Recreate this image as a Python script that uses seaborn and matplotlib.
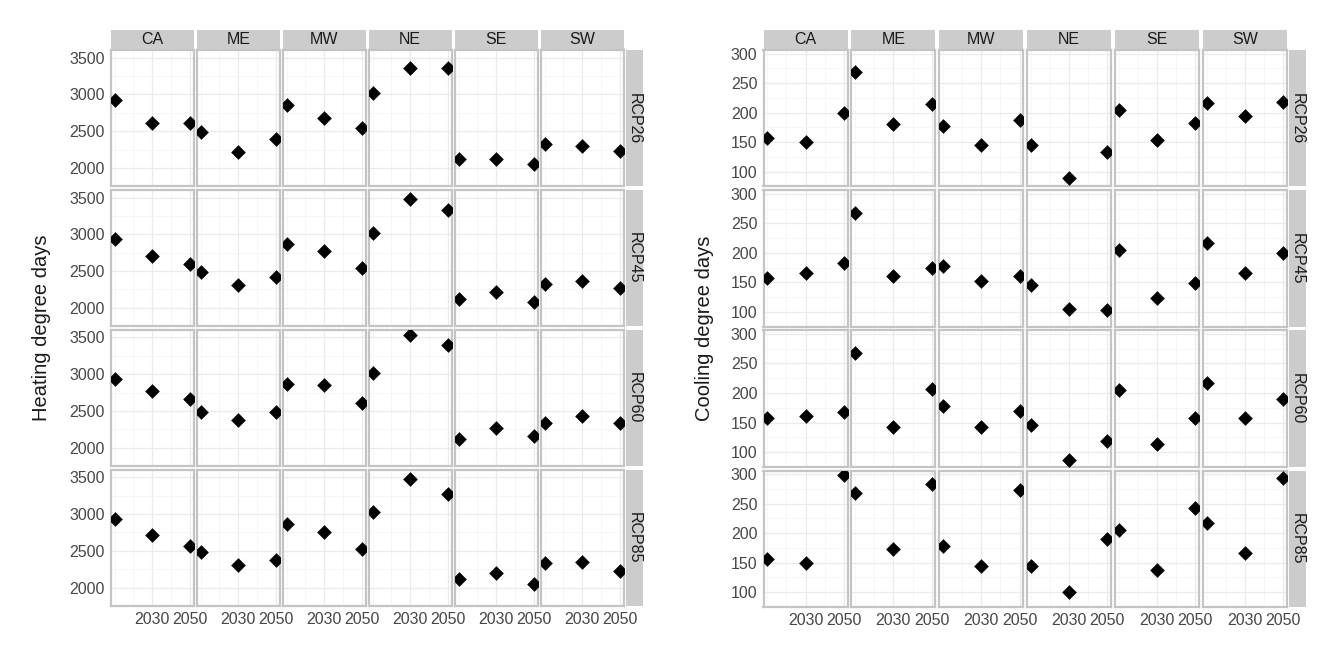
import pandas as pd
import matplotlib.pyplot as plt
import seaborn as sns
from matplotlib.patches import Rectangle

# --- data (baseline, 2030, 2050 for each region) ---
regions = ['CA', 'ME', 'MW', 'NE', 'SE', 'SW']
scenarios = ['RCP26', 'RCP45', 'RCP60', 'RCP85']
years = [2010, 2030, 2050]

hdd_rcp26 = [2930, 2616, 2616, 2490, 2218, 2393, 2862, 2685, 2547,
             3022, 3354, 3354, 2120, 2126, 2060, 2330, 2296, 2231]
hdd_rcp45 = [2930, 2700, 2600, 2490, 2316, 2415, 2862, 2768, 2544,
             3022, 3480, 3327, 2120, 2215, 2075, 2330, 2372, 2268]
hdd_rcp60 = [2930, 2766, 2665, 2490, 2378, 2491, 2862, 2847, 2612,
             3022, 3540, 3395, 2120, 2273, 2160, 2330, 2435, 2342]
hdd_rcp85 = [2930, 2709, 2572, 2490, 2302, 2375, 2862, 2757, 2524,
             3022, 3476, 3270, 2120, 2201, 2048, 2330, 2354, 2225]

cdd_rcp26 = [157, 151, 200, 268, 181, 215, 178, 145, 188,
             145, 90, 134, 205, 154, 182, 217, 194, 218]
cdd_rcp45 = [157, 165, 182, 268, 161, 174, 178, 153, 161,
             145, 105, 103, 205, 123, 149, 217, 165, 199]
cdd_rcp60 = [157, 161, 167, 268, 142, 207, 178, 143, 169,
             145, 86, 119, 205, 114, 158, 217, 158, 190]
cdd_rcp85 = [157, 150, 298, 268, 173, 283, 178, 145, 273,
             145, 101, 190, 205, 137, 242, 217, 166, 293]


def build_frame(series):
    rows = []
    for scen, vals in zip(scenarios, series):
        for i, reg in enumerate(regions):
            for k, yr in enumerate(years):
                rows.append({'scenario': scen, 'region': reg, 'year': yr,
                             'value': vals[i * 3 + k]})
    return pd.DataFrame(rows)


hdd_df = build_frame([hdd_rcp26, hdd_rcp45, hdd_rcp60, hdd_rcp85])
cdd_df = build_frame([cdd_rcp26, cdd_rcp45, cdd_rcp60, cdd_rcp85])

sns.set_style('white')
plt.rcParams['font.family'] = ['Liberation Sans', 'DejaVu Sans']

W, H = 1325, 647
fig = plt.figure(figsize=(W / 100, H / 100), dpi=100)

STRIP = '#CCCCCC'
BORDER = '#C4C4C4'


def draw_grid(df, x0, x1, y0, y1, gap, ylim, yticks, ylabel, ylabel_x):
    ncol, nrow = len(regions), len(scenarios)
    pw = (x1 - x0 - gap * (ncol - 1)) / ncol
    ph = (y1 - y0 - gap * (nrow - 1)) / nrow
    for r, scen in enumerate(scenarios):
        for c, reg in enumerate(regions):
            left = x0 + c * (pw + gap)
            top = y0 + r * (ph + gap)
            ax = fig.add_axes([left / W, 1 - (top + ph) / H, pw / W, ph / H])
            sub = df[(df['scenario'] == scen) & (df['region'] == reg)]
            sns.scatterplot(data=sub, x='year', y='value', marker='D', s=56,
                            color='black', linewidth=0, legend=False, ax=ax,
                            zorder=3)
            ax.set_xlim(2008, 2052)
            ax.set_ylim(*ylim)
            ax.set_xticks([2030, 2050])
            ax.set_xticks([2010, 2020, 2040], minor=True)
            ax.set_yticks(yticks)
            step = yticks[1] - yticks[0]
            ax.set_yticks([t + step / 2 for t in yticks[:-1]] + [yticks[0] - step / 2], minor=True)
            ax.grid(which='major', color='#EBEBEB', linewidth=0.9)
            ax.grid(which='minor', color='#F5F5F5', linewidth=0.6)
            ax.set_axisbelow(True)
            for sp in ax.spines.values():
                sp.set_color(BORDER)
                sp.set_linewidth(1.6)
            ax.tick_params(which='minor', length=0)
            ax.tick_params(which='major', length=3, width=0.8, color='#555555',
                           labelsize=11.5, labelcolor='#474747', pad=1.5)
            ax.set_xlabel('')
            ax.set_ylabel('')
            if c != 0:
                ax.tick_params(axis='y', left=False, labelleft=False)
            if r != nrow - 1:
                ax.tick_params(axis='x', bottom=False, labelbottom=False)
            # column strips
            if r == 0:
                fig.patches.append(Rectangle((left / W, 1 - (y0 - 1) / H), pw / W, 19.5 / H,
                                             transform=fig.transFigure,
                                             facecolor=STRIP, edgecolor='none'))
                fig.text((left + pw / 2) / W, 1 - (y0 - 10.5) / H, reg,
                         ha='center', va='center', fontsize=11.5, color='#1A1A1A')
            # row strips
            if c == ncol - 1:
                sx = left + pw + 2
                fig.patches.append(Rectangle((sx / W, 1 - (top + ph) / H), 17.5 / W, ph / H,
                                             transform=fig.transFigure,
                                             facecolor=STRIP, edgecolor='none'))
                fig.text((sx + 8.5) / W, 1 - (top + ph / 2) / H, scen, rotation=-90,
                         ha='center', va='center', fontsize=11.5, color='#1A1A1A')
    fig.text(ylabel_x / W, 1 - ((y0 + y1) / 2) / H, ylabel, rotation=90,
             ha='center', va='center', fontsize=14.5, color='#1A1A1A')


draw_grid(hdd_df, 111, 623.5, 50, 606, 3.5, (1970, 3605),
          [2000, 2500, 3000, 3500], 'Heating degree days', 42)
draw_grid(cdd_df, 763.5, 1287, 50, 607, 3.8, (79, 306),
          [100, 150, 200, 250, 300], 'Cooling degree days', 705)

fig.savefig('out.png', dpi=100)
plt.close(fig)
